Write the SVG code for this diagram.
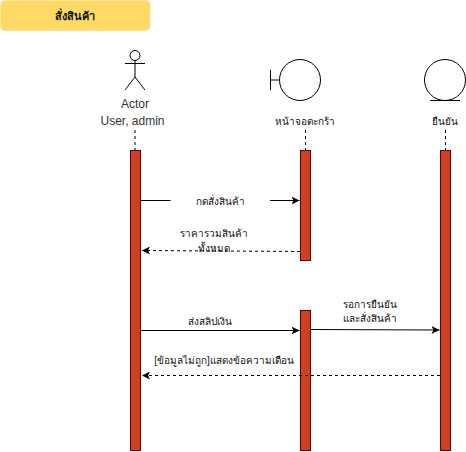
<svg xmlns="http://www.w3.org/2000/svg" width="466" height="452" viewBox="0 0 466 452">
<style>
text{font-family:"Liberation Sans","Noto Sans",sans-serif;font-size:10px;fill:#111;text-anchor:middle}
.act{font-size:12px;fill:#333}
.box{fill:#cc4125;stroke:#660000;stroke-width:1}
.s{fill:none;stroke:#000;stroke-width:1}
.d{fill:none;stroke:#000;stroke-width:1;stroke-dasharray:3 3}
</style>
<defs>
<marker id="a" markerWidth="9" markerHeight="8" refX="8" refY="4" orient="auto" markerUnits="userSpaceOnUse"><path d="M0 0L8 4L0 8L2 4Z" fill="#000"/></marker>
</defs>
<rect width="466" height="452" fill="#fff"/>
<g id="title"><rect x="0.5" y="0.5" width="149.500" height="30" rx="4.500" fill="#ffd966" stroke="#ffe599"/><text x="75" y="20" font-weight="bold" font-size="11" style="font-size:11px">สั่งสินค้า</text></g>
<g id="actor">
<circle class="s" cx="135" cy="55.500" r="5"/>
<path class="s" d="M135 60.500V77M125 63.500H145M135 77L125 90M135 77L145 90"/>
<text class="act" x="135" y="108">Actor</text><text class="act" x="132.500" y="125">User, admin</text>
<path class="d" d="M135 130V150"/>
<rect class="box" x="130.500" y="150.500" width="10" height="300"/>
</g>
<g id="cart">
<circle class="s" cx="300" cy="80" r="20.500"/>
<path class="s" d="M270.500 70V90M270.500 80H279.500"/>
<text x="305" y="125">หน้าจอตะกร้า</text>
<path class="d" d="M305.500 130V150"/>
<rect class="box" x="300.500" y="150.500" width="10" height="110"/>
<rect class="box" x="300.500" y="310.500" width="10" height="140"/>
</g>
<g id="confirm">
<circle class="s" cx="445" cy="80" r="20.500"/>
<path class="s" d="M430 100.500H460"/>
<text x="445" y="125">ยืนยัน</text>
<path class="d" d="M445.500 130V150"/>
<rect class="box" x="440.500" y="150.500" width="10" height="300"/>
</g>
<g id="connectors">
<path class="s" d="M141 200.500H170.500M270 200.500H299.500" marker-end="url(#a)"/>
<text x="220" y="205">กดสั่งสินค้า</text>
<path class="d" d="M300 251.500L142 250.500" marker-end="url(#a)"/>
<text x="214" y="237">ราคารวมสินค้า</text>
<text x="214" y="252">ทั้งหมด</text>
<path class="s" d="M141 330.500H299.500" marker-end="url(#a)"/>
<text x="210" y="325">ส่งสลิปเงิน</text>
<path class="s" d="M311 329.500L439.500 330" marker-end="url(#a)"/>
<text x="370" y="308">รอการยืนยัน</text>
<text x="370" y="322">และสั่งสินค้า</text>
<path class="d" d="M440 375.500H142" marker-end="url(#a)"/>
<text x="224" y="364">[ข้อมูลไม่ถูก]แสดงข้อความเตือน</text>
</g>
</svg>
